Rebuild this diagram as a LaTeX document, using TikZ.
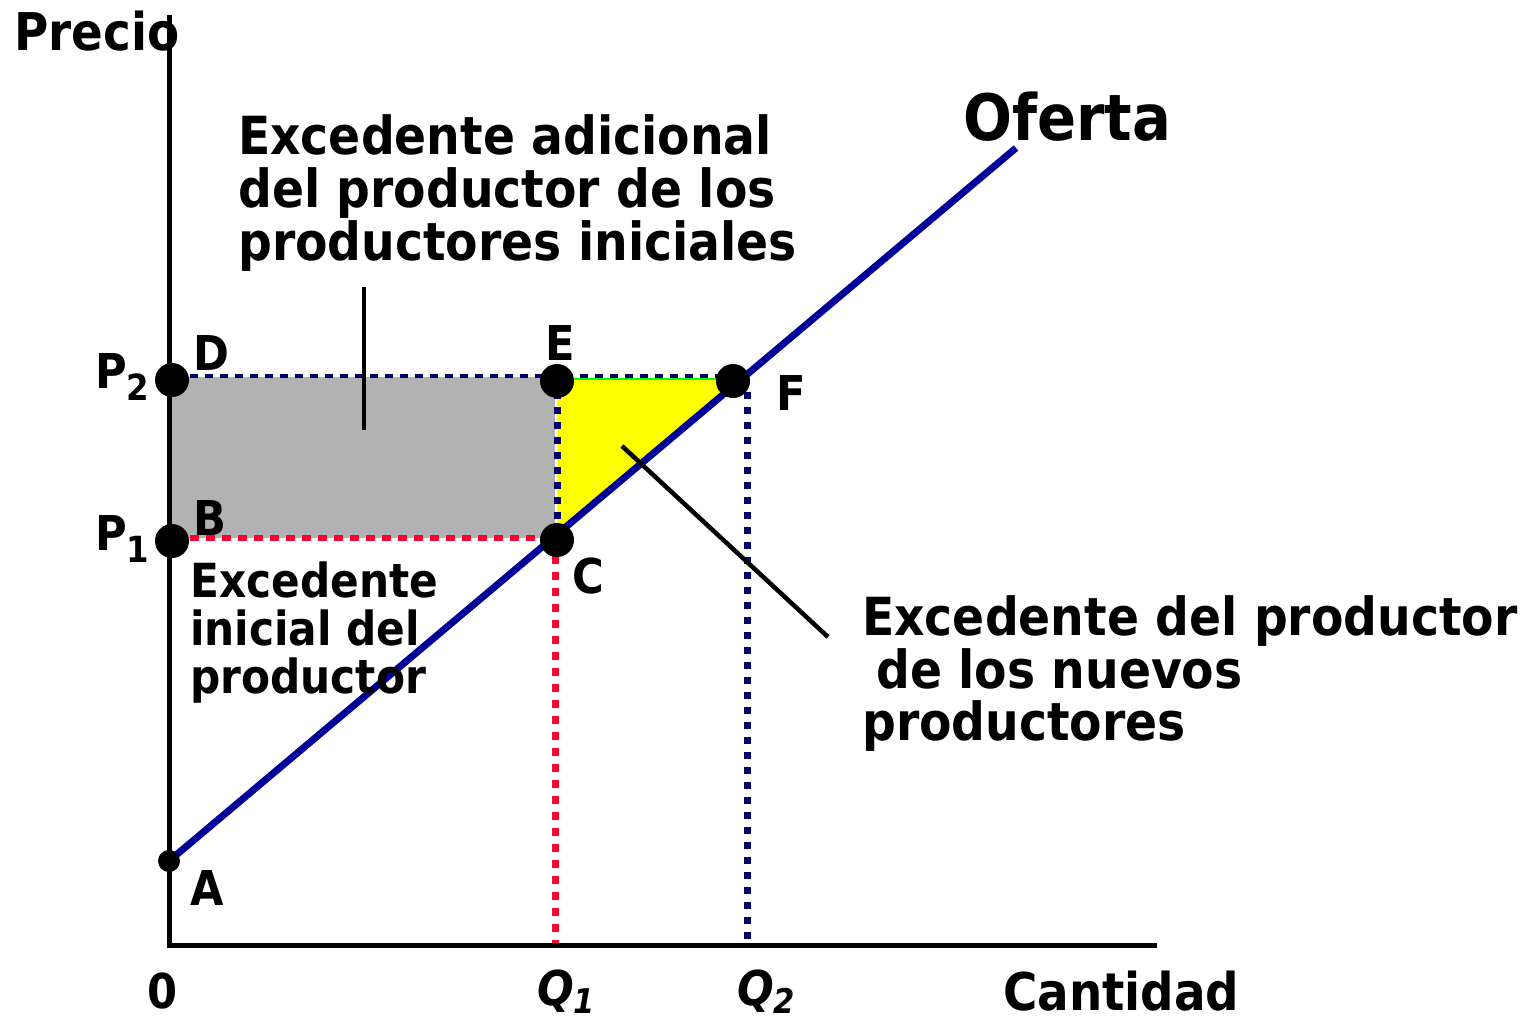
\documentclass[tikz,border=0pt]{standalone}
\usepackage{fontspec}
\setmainfont{DejaVu Sans}[FakeStretch=0.9]
\definecolor{supply}{RGB}{0,0,153}
\definecolor{navdot}{RGB}{0,0,102}
\definecolor{reddot}{RGB}{255,0,51}
\definecolor{areagray}{RGB}{178,178,178}
\definecolor{areayel}{RGB}{255,255,0}
\definecolor{edgegreen}{RGB}{0,255,0}
\newcommand{\fs}[1]{\fontsize{#1}{#1}\selectfont\bfseries}
\begin{document}
\begin{tikzpicture}[x=1pt,y=-1pt,
  lbl/.style={inner sep=0pt,anchor=base west,font=\fs{48}},
  txt/.style={inner sep=0pt,anchor=base west,font=\fs{52.5}},
  txtsm/.style={inner sep=0pt,anchor=base west,font=\fs{47}},
  axis/.style={line width=5pt,black},
  dotpt/.style={circle,fill=black,inner sep=0pt,minimum size=34pt},
  bluedot/.style={navdot,line width=4pt,dash pattern=on 8pt off 7pt},
  bluedotv/.style={navdot,line width=7pt,dash pattern=on 7pt off 8pt},
  reddoth/.style={reddot,line width=6pt,dash pattern=on 9pt off 7pt},
  reddotv/.style={reddot,line width=7pt,dash pattern=on 8pt off 8pt},
  leader/.style={black,line width=4.5pt}]
\useasboundingbox (0,0) rectangle (1531,1023);
% key coordinates
\coordinate (O) at (169,945);
\coordinate (ytop) at (169,15);
\coordinate (xend) at (1157,945);
\coordinate (A) at (169,861);
\coordinate (Send) at (1016,148);
\coordinate (D) at (172,380);
\coordinate (B) at (172,541);
\coordinate (E) at (557,381);
\coordinate (C) at (557,540);
\coordinate (F) at (733,381);
% areas
\fill[areagray] (169,377) rectangle (555,538);
\fill[areayel] (557,378) -- (743,378) -- (557,534) -- cycle;
\draw[edgegreen,line width=2pt] (557,379) -- (727,379);
% dotted guides
\coordinate (hb1) at (190,376);
\coordinate (hb2) at (725,376);
\draw[bluedot] (hb1) -- (hb2);
\coordinate (ve1) at (557,392);
\coordinate (ve2) at (557,528);
\draw[bluedotv] (ve1) -- (ve2);
\coordinate (vf1) at (747,392);
\coordinate (vf2) at (747,945);
\draw[bluedotv] (vf1) -- (vf2);
\coordinate (hr1) at (190,538);
\coordinate (hr2) at (550,538);
\draw[reddoth] (hr1) -- (hr2);
\coordinate (vr1) at (555,556);
\coordinate (vr2) at (555,945);
\draw[reddotv] (vr1) -- (vr2);
% axes
\draw[axis] (ytop) -- (O) -- (xend);
% supply
\draw[supply,line width=7pt] (A) -- (Send);
% points
\node[circle,fill=black,inner sep=0pt,minimum size=22pt] (Adot) at (A) {};
\node[dotpt] (Ddot) at (D) {};
\node[dotpt] (Bdot) at (B) {};
\node[dotpt] (Edot) at (E) {};
\node[dotpt] (Cdot) at (C) {};
\node[dotpt] (Fdot) at (F) {};
% leaders
\coordinate (l1a) at (364,287);
\coordinate (l1b) at (364,430);
\draw[leader] (l1a) -- (l1b);
\coordinate (l2a) at (622,446);
\coordinate (l2b) at (828,637);
\draw[leader] (l2a) -- (l2b);
% labels
\node[lbl,font=\fs{52}] (precio) at (14,50) {Precio};
\node[lbl,font=\fs{64}] (oferta) at (963,140) {Oferta};
\node[lbl,font=\fs{52}] (cantidad) at (1003,1010) {Cantidad};
\node[lbl] (zero) at (147,1008) {0};
\node[lbl] (Dl) at (193,370) {D};
\node[lbl] (Bl) at (193,535) {B};
\node[lbl] (El) at (545,360) {E};
\node[lbl] (Fl) at (776,410) {F};
\node[lbl] (Cl) at (572,593) {C};
\node[lbl] (Al) at (190,905) {A};
\node[lbl] (P2) at (95,388) {P\raisebox{-12pt}{\fs{36}2}};
\node[lbl] (P1) at (95,550) {P\raisebox{-12pt}{\fs{36}1}};
\node[lbl,font=\fs{48}\itshape] (Q1) at (537,1005) {Q\raisebox{-8pt}{\fs{34}\itshape 1}};
\node[lbl,font=\fs{48}\itshape] (Q2) at (737,1005) {Q\raisebox{-8pt}{\fs{34}\itshape 2}};
% text blocks
\node[txt] (ta1) at (238,154) {Excedente adicional};
\node[txt] (ta2) at (238,207) {del productor de los};
\node[txt] (ta3) at (238,260) {productores iniciales};
\node[txtsm] (tb1) at (190,597) {Excedente};
\node[txtsm] (tb2) at (190,645) {inicial del};
\node[txtsm] (tb3) at (190,693) {productor};
\node[txt] (tc1) at (862,635) {Excedente del productor};
\node[txt] (tc2) at (876,688) {de los nuevos};
\node[txt] (tc3) at (862,740) {productores};
\end{tikzpicture}
\end{document}
